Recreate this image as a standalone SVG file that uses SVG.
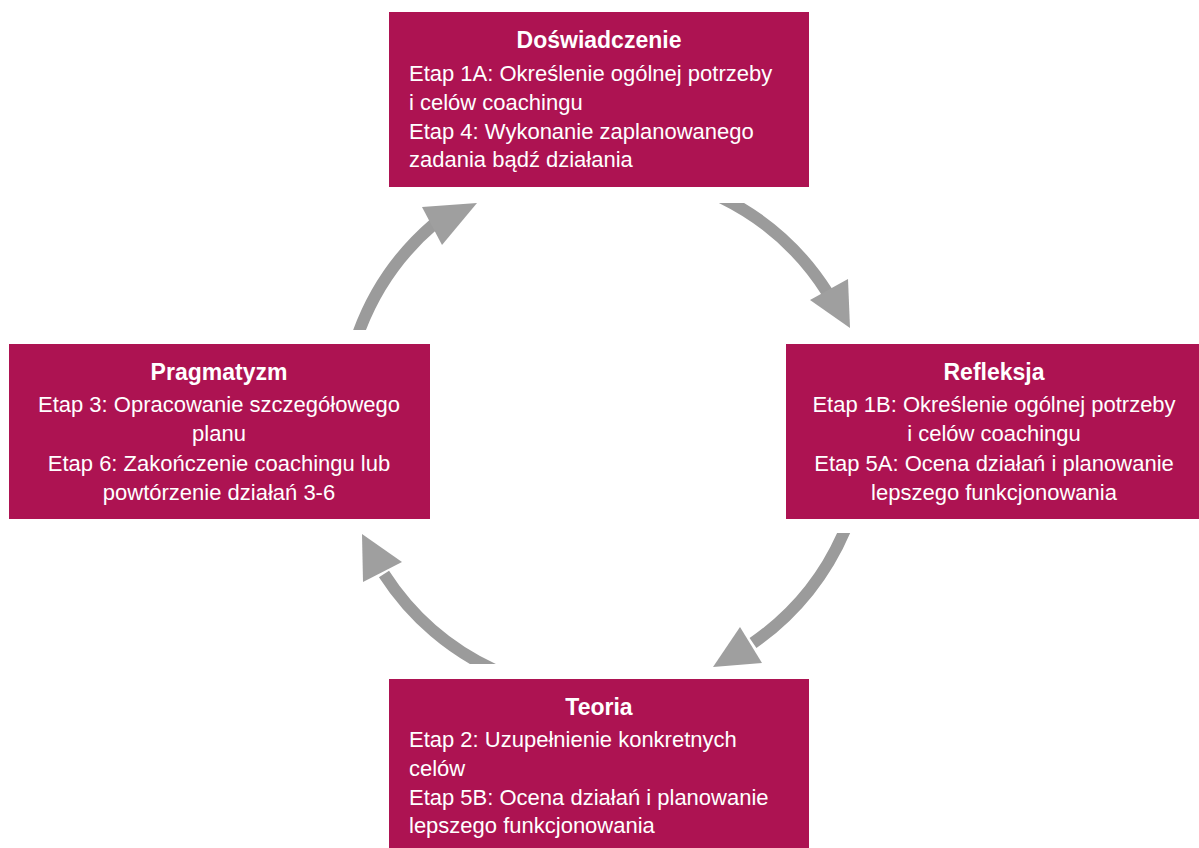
<svg xmlns="http://www.w3.org/2000/svg" width="1199" height="848" viewBox="0 0 1199 848">
<style>
.box{fill:#AD1352}
.t{font-family:"Liberation Sans",Arial,sans-serif;font-size:22px;fill:#ffffff}
.h{font-family:"Liberation Sans",Arial,sans-serif;font-size:23px;font-weight:bold;fill:#ffffff;text-anchor:middle}
.c{text-anchor:middle}
.shaft{fill:none;stroke:#9b9b9b;stroke-width:12}
.head{fill:#9f9f9f}
</style>
<defs>
<clipPath id="clipTop"><rect x="0" y="203" width="1199" height="127"/></clipPath>
<clipPath id="clipBot"><rect x="0" y="533" width="1199" height="131"/></clipPath>
</defs>
<rect width="1199" height="848" fill="#ffffff"/>
<g id="connectors">
<path class="shaft" clip-path="url(#clipTop)" d="M356,340 A262,262 0 0 1 434,224"/>
<polygon class="head" points="422,207 477,203 442,245"/>
<path class="shaft" clip-path="url(#clipTop)" d="M716,195 A262,262 0 0 1 827,292"/>
<polygon class="head" points="810,300 848,279 850,328"/>
<path class="shaft" clip-path="url(#clipBot)" d="M847,525 A262,262 0 0 1 753,643"/>
<polygon class="head" points="740,627 762,663 713,667"/>
<path class="shaft" clip-path="url(#clipBot)" d="M499,672 A262,262 0 0 1 384,574"/>
<polygon class="head" points="402,562 363,582 362,534"/>
</g>
<g id="doswiadczenie">
<rect class="box" x="389" y="12" width="420" height="175"/>
<text class="h" x="599" y="48">Doświadczenie</text>
<text class="t" x="409" y="81">Etap 1A: Określenie ogólnej potrzeby</text>
<text class="t" x="409" y="110">i celów coachingu</text>
<text class="t" x="409" y="139">Etap 4: Wykonanie zaplanowanego</text>
<text class="t" x="409" y="167">zadania bądź działania</text>
</g>
<g id="refleksja">
<rect class="box" x="786" y="344" width="413" height="175"/>
<text class="h" x="994" y="380">Refleksja</text>
<text class="t c" x="994" y="412">Etap 1B: Określenie ogólnej potrzeby</text>
<text class="t c" x="994" y="441">i celów coachingu</text>
<text class="t c" x="994" y="471">Etap 5A: Ocena działań i planowanie</text>
<text class="t c" x="994" y="500">lepszego funkcjonowania</text>
</g>
<g id="teoria">
<rect class="box" x="389" y="679" width="420" height="175"/>
<text class="h" x="599" y="715">Teoria</text>
<text class="t" x="409" y="747">Etap 2: Uzupełnienie konkretnych</text>
<text class="t" x="409" y="776">celów</text>
<text class="t" x="409" y="805">Etap 5B: Ocena działań i planowanie</text>
<text class="t" x="409" y="833">lepszego funkcjonowania</text>
</g>
<g id="pragmatyzm">
<rect class="box" x="9" y="344" width="421" height="175"/>
<text class="h" x="219" y="380">Pragmatyzm</text>
<text class="t c" x="219" y="412">Etap 3: Opracowanie szczegółowego</text>
<text class="t c" x="219" y="441">planu</text>
<text class="t c" x="219" y="471">Etap 6: Zakończenie coachingu lub</text>
<text class="t c" x="219" y="500">powtórzenie działań 3-6</text>
</g>
</svg>
